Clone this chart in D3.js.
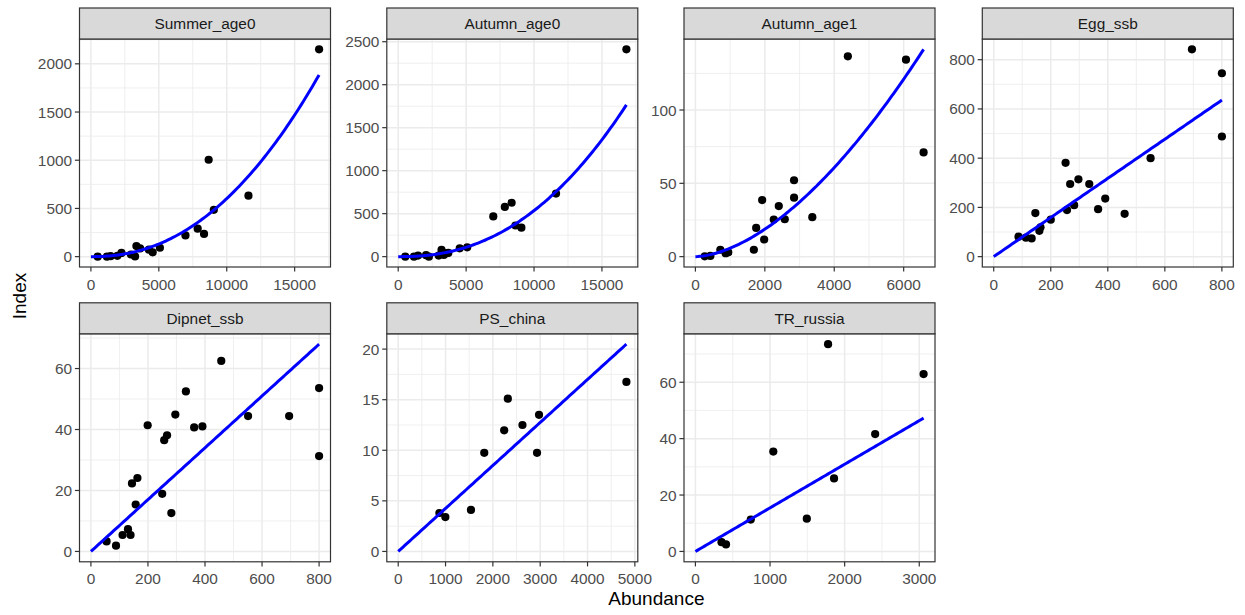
<!DOCTYPE html>
<html>
<head>
<meta charset="utf-8">
<script src="https://cdn.jsdelivr.net/npm/d3@7"></script>
<style>
  body { margin: 0; background: #fff; }
  svg { display: block; }
  text { font-family: "Liberation Sans", Arial, Helvetica, sans-serif; }
</style>
</head>
<body>
<svg id="chart" width="1245" height="615"></svg>
<script>
// ---- data: abundance (x) and index (y) per survey ----
const panelNames = ["Summer_age0", "Autumn_age0", "Autumn_age1", "Egg_ssb", "Dipnet_ssb", "PS_china", "TR_russia"];

const summerAge0X = [500, 1180, 1450, 1950, 2250, 2950, 3250, 3350, 3620, 4270, 4550, 5080, 6960, 7860, 8330, 8670, 9050, 11600, 16800];
const summerAge0Y = [0, 0, 5, 8, 38, 22, 2, 110, 85, 72, 45, 92, 220, 290, 236, 1005, 486, 632, 2150];

const autumnAge0X = [520, 1160, 1460, 2050, 2260, 2980, 3190, 3360, 3580, 3690, 4530, 5080, 7000, 7850, 8350, 8630, 9070, 11620, 16800];
const autumnAge0Y = [0, 0, 12, 17, 0, 12, 78, 20, 40, 45, 97, 108, 468, 578, 627, 362, 337, 733, 2411];

const autumnAge1X = [268, 431, 718, 871, 947, 1684, 1751, 1923, 1981, 2258, 2402, 2574, 2842, 2842, 3368, 4392, 6067, 6574];
const autumnAge1Y = [0.2, 0.5, 4.7, 2.3, 2.9, 4.7, 19.6, 38.6, 11.7, 25.3, 34.5, 25.5, 52.1, 40.2, 26.9, 136.6, 134.3, 71.1];

const eggSsbX = [87, 113, 133, 146, 160, 164, 200, 252, 257, 268, 282, 297, 335, 366, 391, 459, 550, 695, 800, 800];
const eggSsbY = [81, 77, 74, 177, 105, 119, 150, 381, 189, 295, 209, 314, 295, 193, 236, 174, 400, 842, 745, 488];

const dipnetSsbX = [55, 88, 111, 130, 139, 144, 157, 163, 199, 250, 257, 267, 282, 296, 333, 362, 391, 457, 551, 695, 800, 800];
const dipnetSsbY = [3.3, 1.9, 5.4, 7.3, 5.4, 22.3, 15.4, 24.1, 41.4, 18.9, 36.5, 38.1, 12.6, 44.9, 52.5, 40.7, 41.0, 62.5, 44.4, 44.4, 53.6, 31.3];

const psChinaX = [870, 996, 1537, 1818, 2239, 2316, 2625, 2933, 2975, 4821];
const psChinaY = [3.8, 3.4, 4.1, 9.75, 11.97, 15.1, 12.5, 9.75, 13.5, 16.76];

const trRussiaX = [350, 410, 742, 1044, 1493, 1778, 1858, 2409, 3058];
const trRussiaY = [3.3, 2.5, 11.3, 35.4, 11.6, 73.5, 25.9, 41.6, 62.9];

// fitted model: index = q * abundance ^ b
const fitQ = [9.543e-7, 3.377e-7, 4.571e-5, 0.795, 0.085, 0.00425, 0.01546];
const fitB = [2.2, 2.3, 1.7, 1, 1, 1, 1];

// axis breaks
const xTickValues = [
  [0, 5000, 10000, 15000],
  [0, 5000, 10000, 15000],
  [0, 2000, 4000, 6000],
  [0, 200, 400, 600, 800],
  [0, 200, 400, 600, 800],
  [0, 1000, 2000, 3000, 4000, 5000],
  [0, 1000, 2000, 3000]
];
const yTickValues = [
  [0, 500, 1000, 1500, 2000],
  [0, 500, 1000, 1500, 2000, 2500],
  [0, 50, 100],
  [0, 200, 400, 600, 800],
  [0, 20, 40, 60],
  [0, 5, 10, 15, 20],
  [0, 20, 40, 60]
];

const xAxisTitle = "Abundance";
const yAxisTitle = "Index";

// ---- layout ----
const colLeft = [79.5, 386.8, 684, 982.3];
const panelW = 251;
const stripTop = [8, 302.8];
const stripH = 31;
const panelH = 228;
const tickLen = 4.6;
const fontTick = 15.4;

const seriesX = [summerAge0X, autumnAge0X, autumnAge1X, eggSsbX, dipnetSsbX, psChinaX, trRussiaX];
const seriesY = [summerAge0Y, autumnAge0Y, autumnAge1Y, eggSsbY, dipnetSsbY, psChinaY, trRussiaY];

const svg = d3.select("#chart");
svg.append("rect").attr("width", 1245).attr("height", 615).attr("fill", "#fff");

function minorBreaks(major, domain) {
  const step = major[1] - major[0];
  const ext = [major[0] - step, ...major, major[major.length - 1] + step];
  const out = [];
  for (let i = 0; i < ext.length - 1; i++) {
    const m = (ext[i] + ext[i + 1]) / 2;
    if (m >= domain[0] && m <= domain[1]) out.push(m);
  }
  return out;
}

function expand(lo, hi) {
  const d = (hi - lo) * 0.05;
  return [lo - d, hi + d];
}

panelNames.forEach((name, i) => {
  const col = i % 4, row = Math.floor(i / 4);
  const left = colLeft[col];
  const top = stripTop[row] + stripH;
  const bottom = top + panelH;
  const xs = seriesX[i], ys = seriesY[i];
  const q = fitQ[i], b = fitB[i];
  const fit = x => q * Math.pow(x, b);

  const xMax = d3.max(xs);
  const xDom = expand(Math.min(0, d3.min(xs)), xMax);
  const yDom = expand(Math.min(0, d3.min(ys)), Math.max(d3.max(ys), fit(xMax)));

  const x = d3.scaleLinear().domain(xDom).range([left, left + panelW]);
  const y = d3.scaleLinear().domain(yDom).range([bottom, top]);

  const g = svg.append("g");
  const clipId = "clip" + i;
  g.append("clipPath").attr("id", clipId)
    .append("rect").attr("x", left).attr("y", top).attr("width", panelW).attr("height", panelH);

  // panel background and grid
  g.append("rect").attr("x", left).attr("y", top).attr("width", panelW).attr("height", panelH).attr("fill", "#fff");
  const grid = g.append("g").attr("clip-path", `url(#${clipId})`);
  minorBreaks(xTickValues[i], xDom).forEach(v => {
    grid.append("line").attr("x1", x(v)).attr("x2", x(v)).attr("y1", top).attr("y2", bottom)
      .attr("stroke", "#EBEBEB").attr("stroke-width", 0.8);
  });
  minorBreaks(yTickValues[i], yDom).forEach(v => {
    grid.append("line").attr("x1", left).attr("x2", left + panelW).attr("y1", y(v)).attr("y2", y(v))
      .attr("stroke", "#EBEBEB").attr("stroke-width", 0.8);
  });
  xTickValues[i].forEach(v => {
    grid.append("line").attr("x1", x(v)).attr("x2", x(v)).attr("y1", top).attr("y2", bottom)
      .attr("stroke", "#EBEBEB").attr("stroke-width", 1.5);
  });
  yTickValues[i].forEach(v => {
    grid.append("line").attr("x1", left).attr("x2", left + panelW).attr("y1", y(v)).attr("y2", y(v))
      .attr("stroke", "#EBEBEB").attr("stroke-width", 1.5);
  });

  // points
  const plot = g.append("g").attr("clip-path", `url(#${clipId})`);
  plot.selectAll("circle").data(xs.map((v, k) => [v, ys[k]])).join("circle")
    .attr("cx", d => x(d[0])).attr("cy", d => y(d[1])).attr("r", 4.1).attr("fill", "#000");

  // fitted curve
  const curveX = d3.range(0, 101).map(k => xMax * k / 100);
  plot.append("path")
    .datum(curveX)
    .attr("d", d3.line().x(v => x(v)).y(v => y(fit(v))))
    .attr("fill", "none").attr("stroke", "#0000FF").attr("stroke-width", 3);

  // panel border
  g.append("rect").attr("x", left).attr("y", top).attr("width", panelW).attr("height", panelH)
    .attr("fill", "none").attr("stroke", "#333333").attr("stroke-width", 1.2);

  // strip
  g.append("rect").attr("x", left).attr("y", stripTop[row]).attr("width", panelW).attr("height", stripH)
    .attr("fill", "#D9D9D9").attr("stroke", "#333333").attr("stroke-width", 1.2);
  g.append("text").attr("x", left + panelW / 2).attr("y", stripTop[row] + stripH / 2)
    .attr("dy", "0.36em").attr("text-anchor", "middle")
    .attr("font-size", fontTick).attr("fill", "#1A1A1A").text(name);

  // x axis
  const xa = g.append("g");
  xTickValues[i].forEach(v => {
    xa.append("line").attr("x1", x(v)).attr("x2", x(v)).attr("y1", bottom).attr("y2", bottom + tickLen)
      .attr("stroke", "#333333").attr("stroke-width", 1.2);
    xa.append("text").attr("x", x(v)).attr("y", bottom + 22.5).attr("text-anchor", "middle")
      .attr("font-size", fontTick).attr("fill", "#4D4D4D").text(v);
  });

  // y axis
  const ya = g.append("g");
  yTickValues[i].forEach(v => {
    ya.append("line").attr("x1", left - tickLen).attr("x2", left).attr("y1", y(v)).attr("y2", y(v))
      .attr("stroke", "#333333").attr("stroke-width", 1.2);
    ya.append("text").attr("x", left - tickLen - 2.8).attr("y", y(v)).attr("dy", "0.36em")
      .attr("text-anchor", "end").attr("font-size", fontTick).attr("fill", "#4D4D4D").text(v);
  });
});

// axis titles
svg.append("text").attr("x", (colLeft[0] + colLeft[3] + panelW) / 2).attr("y", 605)
  .attr("text-anchor", "middle").attr("font-size", 19).attr("fill", "#000").text(xAxisTitle);
svg.append("text").attr("transform", "translate(25.5,296) rotate(-90)")
  .attr("text-anchor", "middle").attr("font-size", 19).attr("fill", "#000").text(yAxisTitle);
</script>
</body>
</html>
